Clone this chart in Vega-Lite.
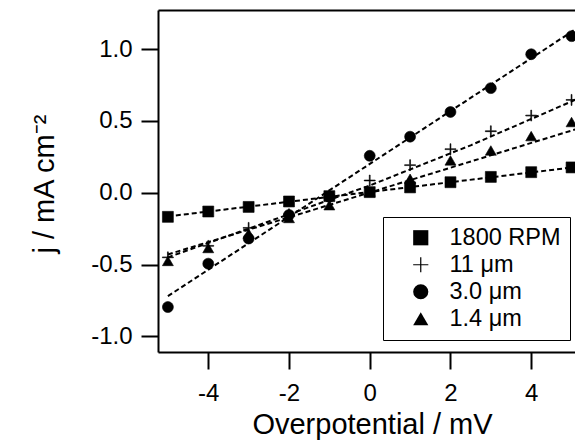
{
  "$schema": "https://vega.github.io/schema/vega-lite/v6.json",
  "width": 417,
  "height": 342,
  "autosize": "none",
  "padding": {"left": 158, "top": 10, "right": 0, "bottom": 92},
  "background": "white",
  "config": {
    "font": "Liberation Sans",
    "view": {"stroke": null},
    "axis": {
      "grid": false,
      "domainColor": "black",
      "domainWidth": 2,
      "tickColor": "black",
      "tickWidth": 2,
      "tickSize": 17,
      "labelColor": "black",
      "labelFont": "Liberation Sans",
      "labelFontSize": 24,
      "titleColor": "black",
      "titleFont": "Liberation Sans",
      "titleFontSize": 29,
      "titleFontWeight": "normal"
    }
  },
  "datasets": {
    "pts": [
      {"x": -5, "j": -0.168, "s": "1800 RPM"},
      {"x": -4, "j": -0.131, "s": "1800 RPM"},
      {"x": -3, "j": -0.099, "s": "1800 RPM"},
      {"x": -2, "j": -0.061, "s": "1800 RPM"},
      {"x": -1, "j": -0.024, "s": "1800 RPM"},
      {"x": 0, "j": 0.004, "s": "1800 RPM"},
      {"x": 1, "j": 0.037, "s": "1800 RPM"},
      {"x": 2, "j": 0.073, "s": "1800 RPM"},
      {"x": 3, "j": 0.11, "s": "1800 RPM"},
      {"x": 4, "j": 0.143, "s": "1800 RPM"},
      {"x": 5, "j": 0.176, "s": "1800 RPM"},
      {"x": -5, "j": -0.45, "s": "11 μm"},
      {"x": -4, "j": -0.37, "s": "11 μm"},
      {"x": -3, "j": -0.245, "s": "11 μm"},
      {"x": -2, "j": -0.15, "s": "11 μm"},
      {"x": -1, "j": -0.035, "s": "11 μm"},
      {"x": 0, "j": 0.085, "s": "11 μm"},
      {"x": 1, "j": 0.192, "s": "11 μm"},
      {"x": 2, "j": 0.303, "s": "11 μm"},
      {"x": 3, "j": 0.428, "s": "11 μm"},
      {"x": 4, "j": 0.537, "s": "11 μm"},
      {"x": 5, "j": 0.646, "s": "11 μm"},
      {"x": -5, "j": -0.796, "s": "3.0 μm"},
      {"x": -4, "j": -0.494, "s": "3.0 μm"},
      {"x": -3, "j": -0.319, "s": "3.0 μm"},
      {"x": -2, "j": -0.155, "s": "3.0 μm"},
      {"x": -1, "j": -0.028, "s": "3.0 μm"},
      {"x": 0, "j": 0.257, "s": "3.0 μm"},
      {"x": 1, "j": 0.39, "s": "3.0 μm"},
      {"x": 2, "j": 0.562, "s": "3.0 μm"},
      {"x": 3, "j": 0.728, "s": "3.0 μm"},
      {"x": 4, "j": 0.964, "s": "3.0 μm"},
      {"x": 5, "j": 1.09, "s": "3.0 μm"},
      {"x": -5, "j": -0.475, "s": "1.4 μm"},
      {"x": -4, "j": -0.385, "s": "1.4 μm"},
      {"x": -3, "j": -0.284, "s": "1.4 μm"},
      {"x": -2, "j": -0.176, "s": "1.4 μm"},
      {"x": -1, "j": -0.087, "s": "1.4 μm"},
      {"x": 0, "j": 0.008, "s": "1.4 μm"},
      {"x": 1, "j": 0.097, "s": "1.4 μm"},
      {"x": 2, "j": 0.225, "s": "1.4 μm"},
      {"x": 3, "j": 0.294, "s": "1.4 μm"},
      {"x": 4, "j": 0.394, "s": "1.4 μm"},
      {"x": 5, "j": 0.492, "s": "1.4 μm"}
    ],
    "fits": [
      {"x": -5, "j": -0.165, "s": "1800 RPM"},
      {"x": 5.2, "j": 0.182, "s": "1800 RPM"},
      {"x": -5, "j": -0.45, "s": "11 μm"},
      {"x": -2.5, "j": -0.2, "s": "11 μm"},
      {"x": 0, "j": 0.05, "s": "11 μm"},
      {"x": 2.5, "j": 0.33, "s": "11 μm"},
      {"x": 5.2, "j": 0.66, "s": "11 μm"},
      {"x": -5, "j": -0.72, "s": "3.0 μm"},
      {"x": 5.2, "j": 1.157, "s": "3.0 μm"},
      {"x": -5, "j": -0.43, "s": "1.4 μm"},
      {"x": 5.2, "j": 0.45, "s": "1.4 μm"}
    ]
  },
  "layer": [
    {
      "data": {"name": "fits"},
      "mark": {"type": "line", "color": "black", "strokeWidth": 2, "strokeDash": [5, 3], "clip": true},
      "encoding": {
        "x": {
          "field": "x", "type": "quantitative",
          "scale": {"domain": [-5.245, 5.085], "nice": false, "zero": false},
          "axis": {
            "orient": "bottom",
            "values": [-4, -2, 0, 2, 4],
            "labelExpr": "replace(format(datum.value, 'd'), '\u2212', '-')",
            "labelPadding": 12,
            "title": "Overpotential / mV",
            "titleX": 214,
            "titleY": 81,
            "titleAlign": "center",
            "titleBaseline": "alphabetic"
          }
        },
        "y": {
          "field": "j", "type": "quantitative",
          "scale": {"domain": [-1.109, 1.272], "nice": false, "zero": false},
          "axis": {
            "values": [-1, -0.5, 0, 0.5, 1],
            "labelExpr": "replace(format(datum.value, '.1f'), '\u2212', '-')",
            "labelPadding": 9,
            "title": "j / mA cm⁻²",
            "titleX": -105,
            "titleY": 243,
            "titleAngle": -90,
            "titleAlign": "left",
            "titleBaseline": "alphabetic"
          }
        },
        "detail": {"field": "s", "type": "nominal"}
      }
    },
    {
      "data": {"name": "pts"},
      "mark": {"type": "point", "filled": true, "fill": "black", "stroke": "black", "strokeWidth": 0.6, "size": 120, "opacity": 1},
      "encoding": {
        "x": {
          "field": "x", "type": "quantitative",
          "scale": {"domain": [-5.245, 5.085], "nice": false, "zero": false},
          "axis": {"orient": "top", "labels": false, "ticks": false, "title": null, "domain": true}
        },
        "y": {
          "field": "j", "type": "quantitative",
          "scale": {"domain": [-1.109, 1.272], "nice": false, "zero": false}
        },
        "shape": {
          "field": "s", "type": "nominal",
          "scale": {
            "domain": ["1800 RPM", "11 μm", "3.0 μm", "1.4 μm"],
            "range": ["square", "M-1,-0.08H-0.08V-1H0.08V-0.08H1V0.08H0.08V1H-0.08V0.08H-1Z", "circle", "triangle-up"]
          },
          "legend": {
            "title": null,
            "orient": "none",
            "legendX": 225,
            "legendY": 207,
            "strokeColor": "black",
            "fillColor": "white",
            "padding": 9,
            "rowPadding": 2,
            "symbolSize": 230,
            "symbolFillColor": "black",
            "symbolStrokeColor": "black",
            "symbolStrokeWidth": 0.6,
            "symbolOpacity": 1,
            "symbolOffset": 17,
            "labelOffset": 17,
            "labelFont": "Liberation Sans",
            "labelFontSize": 23.5,
            "labelColor": "black",
            "encode": {
              "legend": {"update": {"strokeWidth": {"value": 2}}}
            }
          }
        }
      }
    }
  ],
  "resolve": {"axis": {"x": "independent"}}
}
